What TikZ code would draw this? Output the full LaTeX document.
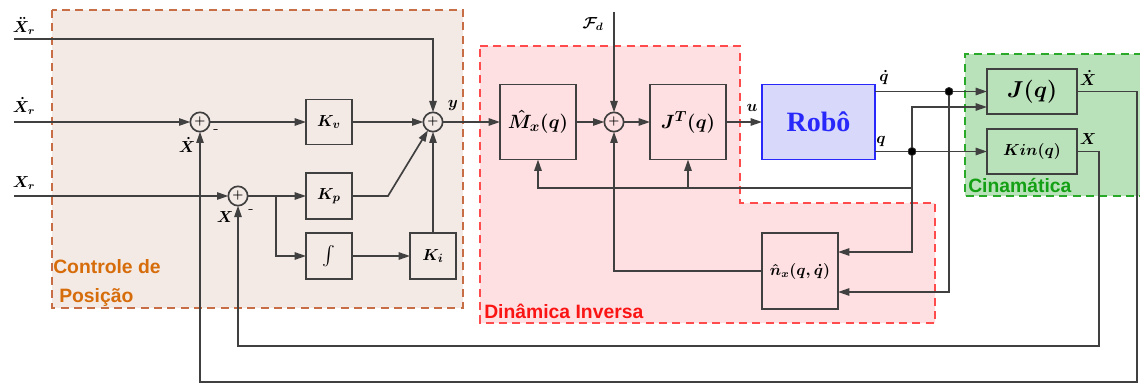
\documentclass[tikz,border=0pt]{standalone}
\usepackage{amsmath}
\usepackage{fontspec}
\newfontfamily\labfont{Liberation Sans}
\newfontfamily\robfont{Liberation Serif}
\usetikzlibrary{arrows.meta}
\definecolor{ln}{RGB}{64,64,64}
\definecolor{brfill}{RGB}{243,233,229}
\definecolor{brline}{RGB}{200,110,70}
\definecolor{brtext}{RGB}{214,108,10}
\definecolor{rdfill}{RGB}{255,224,226}
\definecolor{rdline}{RGB}{255,75,75}
\definecolor{rdtext}{RGB}{250,20,20}
\definecolor{gnfill}{RGB}{186,226,186}
\definecolor{gnline}{RGB}{40,170,40}
\definecolor{gntext}{RGB}{20,160,20}
\definecolor{robfill}{RGB}{216,216,250}
\definecolor{robline}{RGB}{40,40,250}
\begin{document}
\begin{tikzpicture}[x=0.75pt,y=-0.75pt,
  blk/.style={draw=ln,line width=1.25pt,inner sep=0pt,outer sep=0pt,font=\boldmath\fontsize{12.5}{14}\selectfont},
  sumc/.style={circle,draw=ln,line width=1.25pt,minimum size=14.5pt,inner sep=0pt,outer sep=0pt,font=\boldmath\fontsize{9}{9}\selectfont},
  arr/.style={draw=ln,line width=1.25pt,-{Triangle[length=8.5pt,width=5.5pt]}},
  dotn/.style={circle,fill=black,draw=ln,minimum size=6pt,inner sep=0pt,outer sep=0pt},
  lbl/.style={font=\boldmath\fontsize{12}{14}\selectfont,inner sep=0pt},
  region/.style={dashed,line width=1.6pt,dash pattern=on 6pt off 4pt},
  rlabel/.style={font=\labfont\bfseries\fontsize{14.5}{16}\selectfont,inner sep=0pt,anchor=west}
]
\useasboundingbox (0,0) rectangle (1140,385);
% regions
\fill[brfill] (52,10) rectangle (463,308);
\draw[region,brline] (52,10) rectangle (463,308);
\fill[rdfill] (480,46) -- (740,46) -- (740,203) -- (935,203) -- (935,323) -- (480,323) -- cycle;
\draw[region,rdline] (480,46) -- (740,46) -- (740,203) -- (935,203) -- (935,323) -- (480,323) -- cycle;
\fill[gnfill] (965,54) rectangle (1142,196);
\draw[region,gnline] (1142,54) -- (965,54) -- (965,196) -- (1142,196);
\node[rlabel,text=brtext] (lc1) at (53,267) {Controle de};
\node[rlabel,text=brtext] (lc2) at (59,297) {Posição};
\node[rlabel,text=rdtext] (ld) at (484,311) {Dinâmica Inversa};
\node[rlabel,text=gntext] (lk) at (968,186) {Cinamática};
% blocks
\node[blk,minimum width=34.5pt,minimum height=33.75pt] (Kv) at (329,122) {$K_v$};
\node[blk,minimum width=34.5pt,minimum height=34.5pt] (Kp) at (329,196) {$K_p$};
\node[blk,minimum width=34.5pt,minimum height=34.5pt,font=\fontsize{14}{16}\selectfont] (Int) at (329,256) {$\int$};
\node[blk,minimum width=34.5pt,minimum height=34.5pt] (Ki) at (433,256) {$K_i$};
\node[blk,minimum width=57pt,minimum height=56.25pt,font=\boldmath\fontsize{15}{17}\selectfont] (M) at (538,122) {$\hat{M}_x(q)$};
\node[blk,minimum width=57pt,minimum height=56.25pt,font=\boldmath\fontsize{15}{17}\selectfont] (JT) at (688,122) {$J^T(q)$};
\node[blk,draw=robline,fill=robfill,minimum width=84.75pt,minimum height=56.25pt,text=robline,font=\robfont\bfseries\fontsize{21}{24}\selectfont] (Rob) at (818.5,122) {Robô};
\node[blk,minimum width=57pt,minimum height=57pt,font=\boldmath\fontsize{11.5}{13}\selectfont] (N) at (800,271) {$\hat{n}_x(q,\dot{q})$};
\node[blk,minimum width=67.5pt,minimum height=33.75pt,font=\boldmath\fontsize{17}{19}\selectfont] (J) at (1032,91.5) {$J(q)$};
\node[blk,minimum width=67.5pt,minimum height=33.75pt,font=\boldmath\fontsize{12.5}{14}\selectfont] (Kin) at (1032,151.5) {$Kin(q)$};
% sums
\node[sumc] (s1) at (200,122) {$+$};
\node[sumc] (s2) at (238,196) {$+$};
\node[sumc] (sy) at (433,122) {$+$};
\node[sumc] (s3) at (614,122) {$+$};
% dots
\node[dotn] (dqd) at (949,91.5) {};
\node[dotn] (dq) at (912,151.5) {};
% coordinates
\coordinate (iXdd) at (14,39);
\coordinate (iXd) at (14,122);
\coordinate (iX) at (14,196);
\coordinate (sp) at (276,196);
\coordinate (kpb) at (388,196);
\coordinate (iFd) at (614,12);
\coordinate (bar) at (912,188);
\coordinate (jq) at (987,107);
\coordinate (nq) at (838,252);
\coordinate (nqd) at (838,292);
\coordinate (f1a) at (1137,91.5);
\coordinate (f1b) at (1137,382);
\coordinate (f2a) at (1099,151.5);
\coordinate (f2b) at (1099,346);
% connectors
\draw[arr] (iXdd) -| (sy.north);
\draw[arr] (iXd) -- (s1);
\draw[arr] (s1) -- (Kv);
\draw[arr] (Kv) -- (sy);
\draw[arr] (iX) -- (s2);
\draw[arr] (s2) -- (Kp);
\draw[arr] (sp) |- (Int);
\draw[arr] (Int) -- (Ki);
\draw[arr] (Ki) -- (sy);
\draw[arr] (Kp.east) -- (kpb) -- (sy);
\draw[arr] (sy) -- (M);
\draw[arr] (M) -- (s3);
\draw[arr] (iFd) -- (s3);
\draw[arr] (s3) -- (JT);
\draw[arr] (JT) -- (Rob);
\draw[arr] (Rob.east |- dqd) -- (J.west |- dqd);
\draw[arr] (Rob.east |- dq) -- (Kin);
\draw[arr] (dq.center) |- (jq);
\draw[arr] (dq.center) |- (nq);
\draw[arr] (dqd.center) |- (nqd);
\draw[arr] (bar) -| (M.south);
\draw[arr] (JT.south |- bar) -- (JT.south);
\draw[arr] (N.west) -| (s3.south);
\draw[arr] (J.east) -- (f1a) -- (f1b) -| (s1.south);
\draw[arr] (Kin.east) -- (f2a) -- (f2b) -| (s2.south);
\node[dotn] at (dqd) {};
\node[dotn] at (dq) {};
% labels
\node[lbl] (lXdd) at (24,26) {$\ddot{X}_r$};
\node[lbl] (lXd) at (24,106) {$\dot{X}_r$};
\node[lbl] (lX) at (24,183) {$X_r$};
\node[lbl] (lxd1) at (187,145) {$\dot{X}$};
\node[lbl] (m1) at (216,132) {-};
\node[lbl] (lx2) at (225,217) {$X$};
\node[lbl] (m2) at (251,212) {-};
\node[lbl] (ly) at (453,106) {$y$};
\node[lbl] (lFd) at (593,24) {$\mathcal{F}_d$};
\node[lbl] (lu) at (752,108) {$u$};
\node[lbl] (lqd) at (884,78) {$\dot{q}$};
\node[lbl] (lq) at (881,141) {$q$};
\node[lbl] (lXo1) at (1088,78) {$\dot{X}$};
\node[lbl] (lXo2) at (1088,139) {$X$};
\end{tikzpicture}
\end{document}
